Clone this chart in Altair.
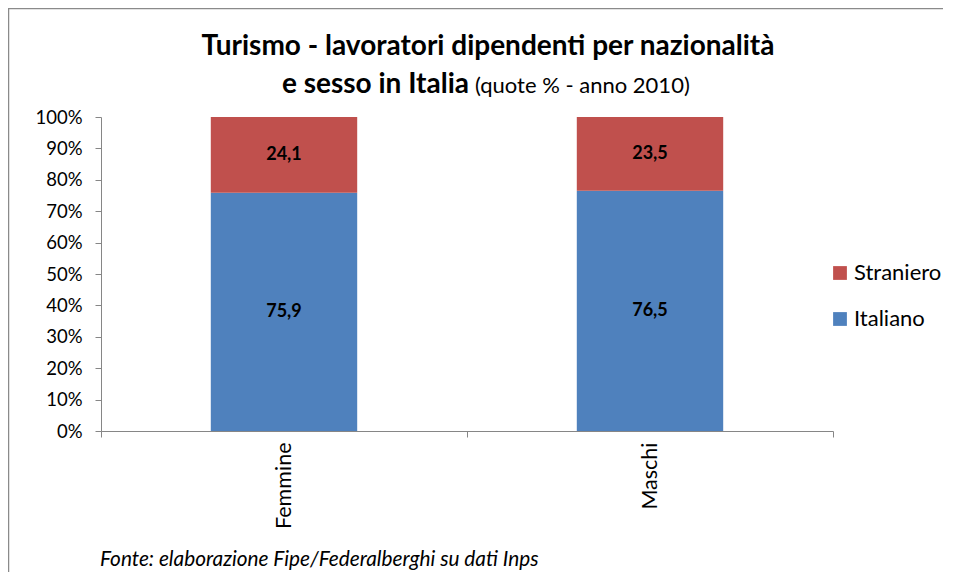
import altair as alt
import pandas as pd

categories = ["Femmine", "Maschi"]
italiano = [75.9, 76.5]
straniero = [24.1, 23.5]
series = ["Straniero", "Italiano"]
colors = ["#C0504D", "#4F81BD"]
y_ticks = [0, 10, 20, 30, 40, 50, 60, 70, 80, 90, 100]

title1 = "Turismo - lavoratori dipendenti per nazionalità"
title2_bold = "e sesso in Italia"
title2_norm = "(quote % - anno 2010)"
footer = "Fonte: elaborazione Fipe/Federalberghi su dati Inps"

rows = []
for c, i, s in zip(categories, italiano, straniero):
    rows.append({"cat": c, "serie": "Italiano", "val": i, "ord": 0})
    rows.append({"cat": c, "serie": "Straniero", "val": s, "ord": 1})
df = pd.DataFrame(rows)

FONT = "Lato"
AXC = "#868686"

base = alt.Chart(df).transform_stack(
    stack="val", groupby=["cat"], as_=["y0", "y1"], sort=[alt.SortField("ord")]
).transform_calculate(
    mid="(datum.y0 + datum.y1) / 2",
    label="replace(format(datum.val, '.1f'), '.', ',')",
)

xaxis = alt.Axis(
    title=None, labelAngle=-90, tickBand="extent", tickSize=6,
    labelPadding=5, labelFontSize=21.5, labelFont=FONT, labelColor="black",
    domainColor=AXC, tickColor=AXC, grid=False,
)
xscale = alt.Scale(type="band", paddingInner=0, paddingOuter=0)
yaxis = alt.Axis(
    title=None, values=y_ticks, labelExpr="datum.value + '%'", tickCount=11,
    labelOverlap=False, tickSize=6, labelPadding=13, labelFontSize=18.5,
    labelFont=FONT, labelColor="black", domainColor=AXC, tickColor=AXC,
    grid=False,
)
yscale = alt.Scale(domain=[0, 100], nice=False)

bars = base.mark_bar(width={"band": 0.4}).encode(
    x=alt.X("cat:N", sort=categories, scale=xscale, axis=xaxis),
    y=alt.Y("y0:Q", scale=yscale, axis=yaxis),
    y2="y1:Q",
    color=alt.Color(
        "serie:N",
        scale=alt.Scale(domain=series, range=colors),
        legend=alt.Legend(
            title=None, orient="none", legendX=728, legendY=145,
            symbolType="square", symbolSize=190, symbolStrokeWidth=0,
            labelFontSize=22, labelFont=FONT, labelColor="black",
            rowPadding=24, labelOffset=3,
        ),
    ),
)

labels = base.mark_text(font=FONT, fontSize=18, fontWeight="bold", color="black").encode(
    x=alt.X("cat:N", sort=categories, scale=xscale, axis=xaxis),
    y=alt.Y("mid:Q", scale=yscale, axis=yaxis),
    text="label:N",
)

one = pd.DataFrame({"a": [0]})

t1 = alt.Chart(one).mark_text(
    text=title1, font=FONT, fontSize=28, fontWeight="bold", align="center", baseline="middle"
).encode(x=alt.value(387), y=alt.value(-70))
t2a = alt.Chart(one).mark_text(
    text=title2_bold, font=FONT, fontSize=28, fontWeight="bold", align="right", baseline="middle"
).encode(x=alt.value(368), y=alt.value(-32))
t2b = alt.Chart(one).mark_text(
    text=title2_norm, font=FONT, fontSize=22, align="left", baseline="middle"
).encode(x=alt.value(374), y=alt.value(-31))
foot = alt.Chart(one).mark_text(
    text=footer, font=FONT, fontSize=20.8, fontStyle="italic", align="left", baseline="middle"
).encode(x=alt.value(-1), y=alt.value(443))

frame_top = alt.Chart(one).mark_rule(color="#8a8a8a", strokeWidth=1.5).encode(
    x=alt.value(-93), x2=alt.value(850), y=alt.value(-108.5)
)
frame_left = alt.Chart(one).mark_rule(color="#8a8a8a", strokeWidth=1.5).encode(
    x=alt.value(-92.5), y=alt.value(-109), y2=alt.value(470)
)

chart = alt.layer(bars, labels, t1, t2a, t2b, foot, frame_top, frame_left).properties(
    width=732,
    height=314,
    autosize=alt.AutoSizeParams(type="none"),
    padding={"left": 93, "top": 109, "right": 110, "bottom": 141},
).configure_view(stroke=None)

chart.save("out.html", embed_options={"renderer": "svg", "actions": False})
